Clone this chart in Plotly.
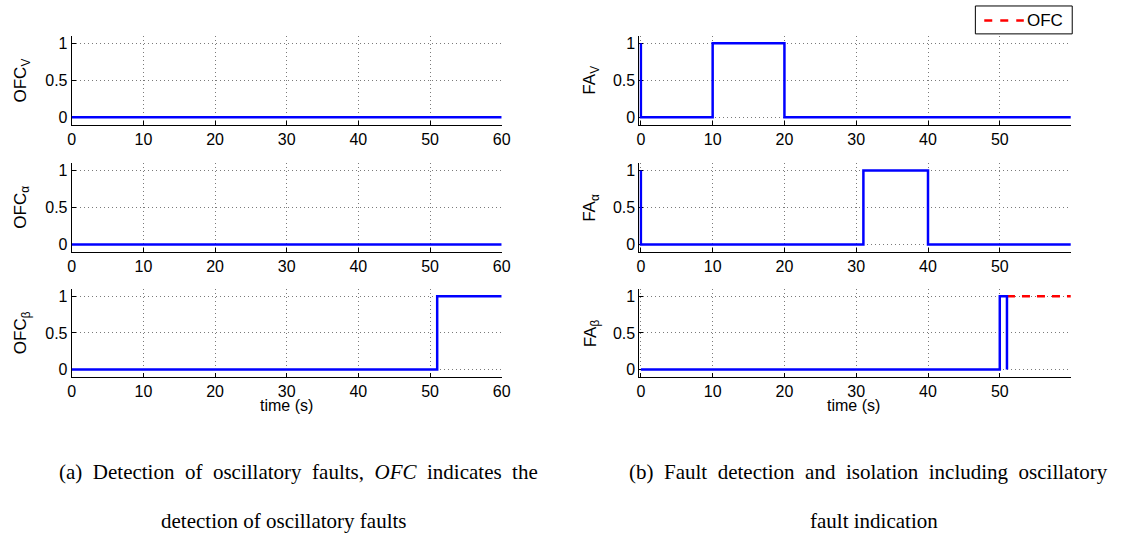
import plotly.graph_objects as go

# ---------------- data ----------------
# left column: oscillatory fault indicators (step data: change points)
ofc_v_t = [0, 60]
ofc_v_y = [0, 0]
ofc_a_t = [0, 60]
ofc_a_y = [0, 0]
ofc_b_t = [0, 51, 60]
ofc_b_y = [0, 1, 1]

# right column: fault isolation flags
fa_v_t = [0, 0, 10, 20, 59.9]
fa_v_y = [1, 0, 1, 0, 0]
fa_a_t = [0, 0, 31, 40, 59.9]
fa_a_y = [1, 0, 1, 0, 0]
fa_b_t = [0, 50, 51]
fa_b_y = [0, 1, 0]
ofc_fa_b_t = [51, 59.9]
ofc_fa_b_y = [1, 1]

left_xticks = [0, 10, 20, 30, 40, 50, 60]
right_xticks = [0, 10, 20, 30, 40, 50]
yticks = [0, 0.5, 1]
yticklabels = ["0", "0.5", "1"]

left_labels = ["OFC<sub>V</sub>", "OFC<sub>α</sub>", "OFC<sub>β</sub>"]
right_labels = ["FA<sub>V</sub>", "FA<sub>α</sub>", "FA<sub>β</sub>"]

# ---------------- layout geometry ----------------
W, H = 1127, 538
left_dom = [68.5 / W, 503.5 / W]
right_x0 = -0.2
right_dom = [(644.3 + right_x0 * 7.26) / W, 1079.3 / W]
rows_px = [(35, 124), (162.7, 251.7), (289, 377.3)]
y_doms = [[1 - b / H, 1 - t / H] for t, b in rows_px]

BLUE = "#0000FF"
RED = "#FF0000"
SANS = "Liberation Sans, Arial"
TICKFONT = dict(family=SANS, size=16, color="black")

fig = go.Figure()

left_data = [(ofc_v_t, ofc_v_y), (ofc_a_t, ofc_a_y), (ofc_b_t, ofc_b_y)]
right_data = [(fa_v_t, fa_v_y), (fa_a_t, fa_a_y), (fa_b_t, fa_b_y)]

layout = dict(
    width=W, height=H,
    margin=dict(l=0, r=0, t=0, b=0),
    paper_bgcolor="white", plot_bgcolor="white",
    showlegend=False,
)

def axis_common():
    return dict(
        showline=True, linecolor="black", linewidth=1, mirror=False,
        ticks="inside", ticklen=4, tickcolor="black", tickwidth=1,
        showgrid=True, gridcolor="#7a7a7a", gridwidth=1, griddash="1px,3px",
        zeroline=False, tickfont=TICKFONT, layer="below traces",
    )

annotations = []
shapes = []
idx = 1
for r in range(3):
    for c in range(2):
        xa = "x" if idx == 1 else f"x{idx}"
        ya = "y" if idx == 1 else f"y{idx}"
        xkey = "xaxis" if idx == 1 else f"xaxis{idx}"
        ykey = "yaxis" if idx == 1 else f"yaxis{idx}"
        if c == 0:
            t, y = left_data[r]
            xr = [0, 60]
            xt = left_xticks
            dom = left_dom
            lab = left_labels[r]
            lab_x = 68.5 - 50
        else:
            t, y = right_data[r]
            xr = [right_x0, 59.9]
            xt = right_xticks
            dom = right_dom
            lab = right_labels[r]
            lab_x = 644.3 - 50
        if c == 1 and r == 2:
            fig.add_trace(go.Scatter(
                x=ofc_fa_b_t, y=ofc_fa_b_y, mode="lines", line_shape="hv",
                line=dict(color=RED, width=2.5, dash="8px,7px"),
                name="OFC", showlegend=False, xaxis=xa, yaxis=ya, hoverinfo="skip"))
        fig.add_trace(go.Scatter(
            x=t, y=y, mode="lines", line_shape="hv",
            line=dict(color=BLUE, width=2.5), showlegend=False,
            xaxis=xa, yaxis=ya, hoverinfo="skip"))
        xd = axis_common()
        xd.update(domain=dom, range=xr, tickvals=xt, ticktext=[str(v) for v in xt],
                  anchor=ya)
        yd = axis_common()
        yd.update(domain=y_doms[r], range=[-0.1, 1.1], tickvals=yticks,
                  ticktext=yticklabels, anchor=xa)
        layout[xkey] = xd
        layout[ykey] = yd
        ymid = (y_doms[r][0] + y_doms[r][1]) / 2
        annotations.append(dict(
            text=lab, textangle=-90, xref="paper", yref="paper",
            x=lab_x / W, y=ymid, xanchor="center", yanchor="middle",
            showarrow=False, font=dict(family=SANS, size=17, color="black")))
        idx += 1

# x-axis titles for the bottom row
for cx in ((68.5 + 503.5) / 2, (644.3 + 1079.3) / 2 - 2):
    annotations.append(dict(
        text="time (s)", xref="paper", yref="paper",
        x=cx / W, y=1 - 406 / H, xanchor="center", yanchor="middle",
        showarrow=False, font=dict(family=SANS, size=16, color="black")))

# legend box (drawn manually to match the original geometry)
lx0, lx1, ly0, ly1 = 982.7, 1080.7, 5, 33
shapes.append(dict(type="rect", xref="paper", yref="paper",
                   x0=lx0 / W, x1=lx1 / W, y0=1 - ly1 / H, y1=1 - ly0 / H,
                   line=dict(color="black", width=1), fillcolor="white", layer="above"))
shapes.append(dict(type="line", xref="paper", yref="paper",
                   x0=991.7 / W, x1=1031.7 / W, y0=1 - 19.5 / H, y1=1 - 19.5 / H,
                   line=dict(color=RED, width=2.5, dash="8px,8px"), layer="above"))
annotations.append(dict(text="OFC", xref="paper", yref="paper",
                        x=1032.5 / W, y=1 - 20 / H, xanchor="left", yanchor="middle",
                        showarrow=False, font=dict(family=SANS, size=17, color="black")))

# captions
CAPFONT = dict(family="Liberation Serif, Times New Roman, serif", size=21, color="black")
captions = [
    ("(a)  Detection  of  oscillatory  faults,  <i>OFC</i>  indicates  the", 298, 473),
    ("detection of oscillatory faults", 283, 522),
    ("(b)  Fault  detection  and  isolation  including  oscillatory", 875, 473),
    ("fault indication", 880, 522),
]
for txt, cx, cy in captions:
    annotations.append(dict(
        text=txt, xref="paper", yref="paper", x=cx / W, y=1 - cy / H,
        xanchor="center", yanchor="middle", showarrow=False, font=CAPFONT))

layout["annotations"] = annotations
layout["shapes"] = shapes
fig.update_layout(**layout)

fig.write_html("out.html")
